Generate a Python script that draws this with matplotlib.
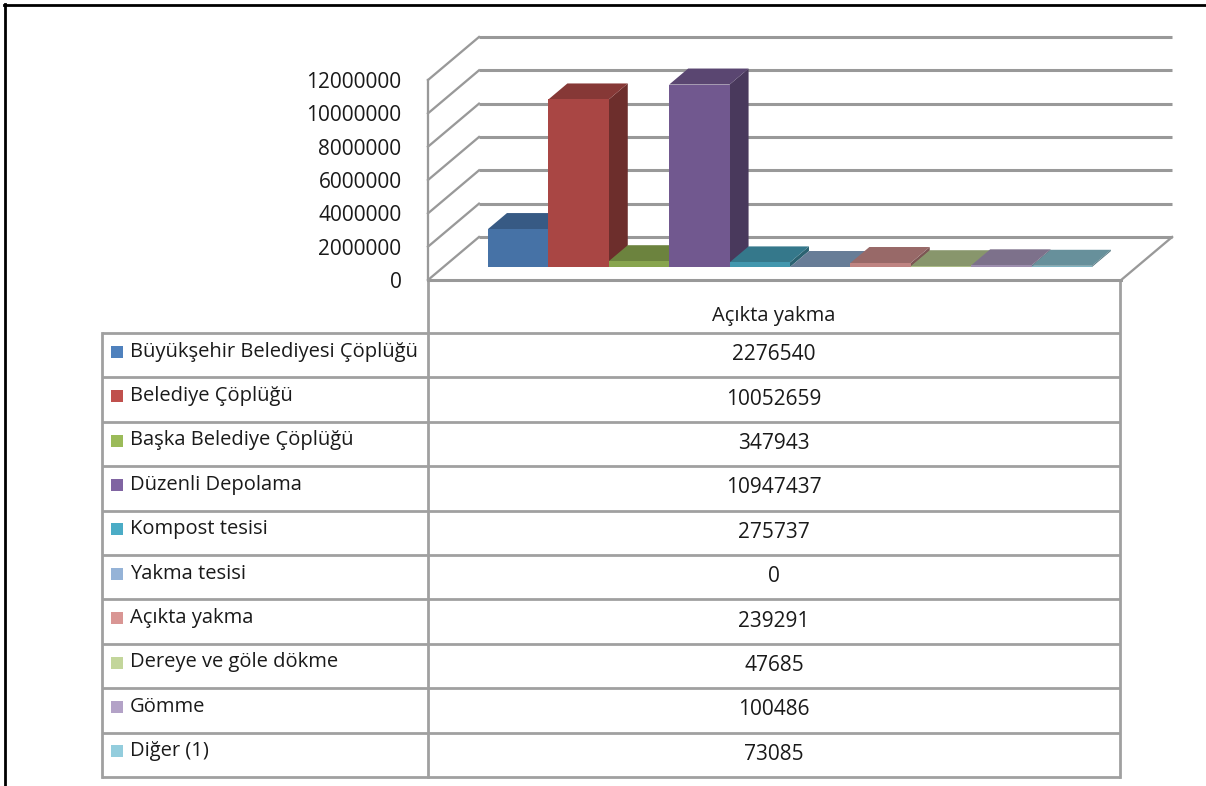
import numpy as np
import matplotlib
matplotlib.use("Agg")
import matplotlib.pyplot as plt
from matplotlib.patches import Polygon, Rectangle
from matplotlib.colors import to_rgb

plt.rcParams['font.family'] = ['Open Sans', 'DejaVu Sans']

# ---------------- data ----------------
series_names = ["Büyükşehir Belediyesi Çöplüğü", "Belediye Çöplüğü",
                "Başka Belediye Çöplüğü", "Düzenli Depolama", "Kompost tesisi",
                "Yakma tesisi", "Açıkta yakma", "Dereye ve göle dökme",
                "Gömme", "Diğer (1)"]
values = [2276540, 10052659, 347943, 10947437, 275737, 0, 239291, 47685, 100486, 73085]
category = "Açıkta yakma"
y_ticks = [0, 2000000, 4000000, 6000000, 8000000, 10000000, 12000000]
colors = ['#4F81BD', '#C0504D', '#9BBB59', '#8064A2', '#4BACC6',
          '#95B3D7', '#D99694', '#C3D69B', '#B3A2C7', '#93CDDD']

# ---------------- figure ----------------
W, H = 1206, 786
fig = plt.figure(figsize=(W / 100, H / 100), dpi=100)
txt_c = '#1a1a1a'
num_fs = 15
lab_fs = 14.5

# table / frame overlay in pixel coordinates
tab = fig.add_axes([0, 0, 1, 1], zorder=0)
tab.set_xlim(0, W)
tab.set_ylim(H, 0)
tab.axis('off')

# chart axes: x in category slots, y in values
slot_px = 60.4
ax_left, ax_zero, ax_top = 428, 280, 80
ax = fig.add_axes([ax_left / W, (H - ax_zero) / H, (W - ax_left) / W, (ax_zero - ax_top) / H],
                  zorder=1)
ax.patch.set_alpha(0)
ymax = y_ticks[-1]
ax.set_ylim(0, ymax)
ax.set_xlim(0, (W - ax_left) / slot_px)
for s in ax.spines.values():
    s.set_visible(False)
ax.set_xticks([])
ax.set_yticks(y_ticks)
ax.set_yticklabels([str(t) for t in y_ticks], fontsize=num_fs, color=txt_c)
ax.tick_params(axis='y', length=0, pad=19)

px_per_val = (ax_zero - ax_top) / ymax
Dx = 51 / slot_px          # full depth, x (slots)
Dy = 43 / px_per_val       # full depth, y (value units)
f1, f2 = 13 / 43, 29 / 43  # bar front/back depth fractions
gap = 0.738
n = len(values)
Wf = n + 2 * gap           # floor width

grid_c = '#999999'
glw = 2.2
# back-wall gridlines and left-wall diagonals
for t in y_ticks:
    ax.plot([Dx, Wf + Dx], [t + Dy, t + Dy], color=grid_c, lw=glw, clip_on=False,
            solid_capstyle='butt', zorder=1)
    ax.plot([0, Dx], [t, t + Dy], color=grid_c, lw=glw * 0.75, clip_on=False, zorder=1)
# left wall front edge
ax.plot([0, 0], [0, ymax], color=grid_c, lw=glw * 0.75, clip_on=False, zorder=1)
# floor
ax.plot([0, Wf], [0, 0], color=grid_c, lw=glw, clip_on=False, zorder=1)
ax.plot([Wf, Wf + Dx], [0, Dy], color=grid_c, lw=glw * 0.75, clip_on=False, zorder=1)


def shade(c, k):
    r, g, b = to_rgb(c)
    return (r * k, g * k, b * k)


z = 2
for i, (v, c) in enumerate(zip(values, colors)):
    x0 = gap + i
    xf, yf = x0 + f1 * Dx, f1 * Dy
    xb, yb = x0 + f2 * Dx, f2 * Dy
    # right side
    ax.add_patch(Polygon([(xf + 1, yf), (xf + 1, yf + v), (xb + 1, yb + v), (xb + 1, yb)],
                         closed=True, facecolor=shade(c, 0.57), edgecolor='none',
                         clip_on=False, zorder=z))
    # top
    ax.add_patch(Polygon([(xf, yf + v), (xf + 1, yf + v), (xb + 1, yb + v), (xb, yb + v)],
                         closed=True, facecolor=shade(c, 0.70), edgecolor='none',
                         clip_on=False, zorder=z + 1))
    # front
    ax.bar(xf, v, width=1, bottom=yf, align='edge', color=shade(c, 0.88),
           edgecolor='none', clip_on=False, zorder=z + 2)
    z += 3

# ---------------- data table ----------------
line_c = '#a0a0a0'
tlw = 2.0
tab_left, col_x, tab_right = 102, 428, 1120
row_top = 333
row_h = 44.4
floor_y = 282
rows_y = [row_top + k * row_h for k in range(n + 1)]
for yy in rows_y:
    tab.plot([tab_left, tab_right], [yy, yy], color=line_c, lw=tlw, solid_capstyle='butt')
tab.plot([tab_left, tab_left], [rows_y[0], rows_y[-1]], color=line_c, lw=tlw)
tab.plot([col_x, col_x], [floor_y, rows_y[-1]], color=line_c, lw=tlw)
tab.plot([tab_right, tab_right], [floor_y, rows_y[-1]], color=line_c, lw=tlw)

tab.text((col_x + tab_right) / 2, 316, category, ha='center', va='center',
         fontsize=lab_fs, color=txt_c)
for k, (name, v, c) in enumerate(zip(series_names, values, colors)):
    yc = rows_y[k] + row_h / 2
    tab.add_patch(Rectangle((111, yc - 9.5), 12, 12, facecolor=c, edgecolor='none'))
    tab.text(130, yc - 3.5, name, ha='left', va='center', fontsize=lab_fs, color=txt_c)
    tab.text((col_x + tab_right) / 2, yc - 0.5, str(v), ha='center', va='center',
             fontsize=num_fs, color=txt_c)

# outer frame
tab.plot([5, 5], [4, H], color='black', lw=2)
tab.plot([4, W], [5, 5], color='black', lw=2)

fig.savefig('out.png', dpi=100)
